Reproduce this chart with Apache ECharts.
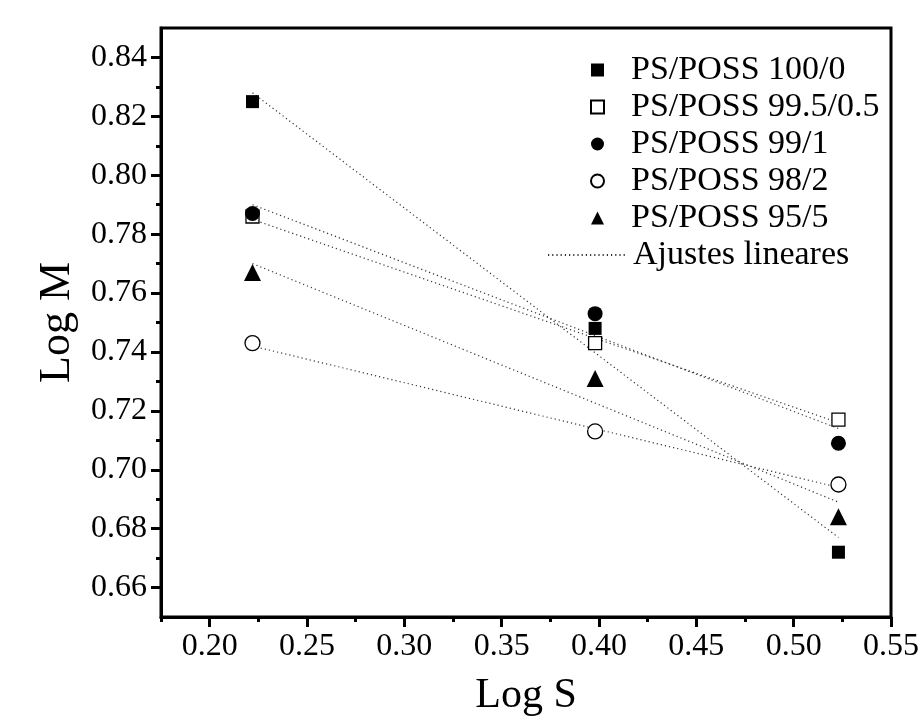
<!DOCTYPE html>
<html>
<head>
<meta charset="utf-8">
<script src="https://cdn.jsdelivr.net/npm/echarts@6/dist/echarts.min.js"></script>
<style>
  html, body { margin: 0; padding: 0; background: #fff; }
  #chart { width: 922px; height: 724px; }
</style>
</head>
<body>
<div id="chart"></div>
<script>
// Log S positions of the three measurements
var logS = [0.222, 0.398, 0.523];

// Log M values for each blend
var names = ['PS/POSS 100/0', 'PS/POSS 99.5/0.5', 'PS/POSS 99/1', 'PS/POSS 98/2', 'PS/POSS 95/5'];
var ps100 = [0.825, 0.748, 0.672];
var ps995 = [0.786, 0.743, 0.717];
var ps99 = [0.787, 0.753, 0.709];
var ps98 = [0.743, 0.713, 0.695];
var ps95 = [0.767, 0.731, 0.684];

// linear fits: value at first and last Log S
var fitStart = [0.828, 0.785, 0.790, 0.742, 0.770];
var fitEnd = [0.677, 0.716, 0.714, 0.694, 0.689];

// ticks
var xMajorTicks = [0.20, 0.25, 0.30, 0.35, 0.40, 0.45, 0.50, 0.55];
var xMinorTicks = [0.175, 0.225, 0.275, 0.325, 0.375, 0.425, 0.475, 0.525];
var yMajorTicks = [0.66, 0.68, 0.70, 0.72, 0.74, 0.76, 0.78, 0.80, 0.82, 0.84];
var yMinorTicks = [0.67, 0.69, 0.71, 0.73, 0.75, 0.77, 0.79, 0.81, 0.83];

var font = 'Liberation Serif, Times New Roman, serif';
var allY = [ps100, ps995, ps99, ps98, ps95];
var symbols = ['rect', 'rect', 'circle', 'circle', 'triangle'];
var sizes = [13, 13, 15, 15, 17];
var filled = [true, false, true, false, true];

function pairs(ys) {
	return ys.map(function(v, i) { return [logS[i], v]; });
}

var series = [];
for (var i = 0; i < names.length; i++) {
	series.push({
		name: 'Ajustes lineares',
		type: 'line',
		symbol: 'none',
		silent: true,
		z: 1,
		itemStyle: { color: '#333' },
		lineStyle: { type: [1.2, 3], width: 1.2, color: '#333' },
		data: [[logS[0], fitStart[i]], [logS[2], fitEnd[i]]]
	});
}
for (var i = 0; i < names.length; i++) {
	series.push({
		name: names[i],
		type: 'scatter',
		symbol: symbols[i],
		symbolSize: sizes[i],
		z: 3,
		itemStyle: filled[i]
			? { color: '#000', opacity: 1 }
			: { color: '#fff', borderColor: '#000', borderWidth: 1.3, opacity: 1 },
		data: pairs(allY[i])
	});
}

var axisBase = {
	type: 'value',
	splitLine: { show: false },
	axisLine: { show: true, onZero: false, lineStyle: { color: '#000', width: 3 } }
};
var legendText = { fontFamily: font, fontSize: 34, lineHeight: 34, color: '#000' };

var myChart = echarts.init(document.getElementById('chart'));
var option = {
	backgroundColor: '#fff',
	animation: false,
	grid: {
		left: 161,
		top: 28,
		width: 730,
		height: 589,
		show: true,
		borderColor: '#000',
		borderWidth: 3
	},
	legend: [{
		orient: 'vertical',
		left: 585,
		top: 48,
		itemGap: 3,
		itemWidth: 13,
		itemHeight: 13,
		data: names,
		textStyle: Object.assign({ padding: [0, 0, 0, 22] }, legendText)
	}, {
		orient: 'vertical',
		left: 542,
		top: 233,
		itemWidth: 78,
		itemHeight: 12,
		data: [{ name: 'Ajustes lineares', itemStyle: { opacity: 0 } }],
		textStyle: Object.assign({ padding: [0, 0, 0, 2] }, legendText)
	}],
	xAxis: [
		Object.assign({}, axisBase, {
			min: 0.175,
			max: 0.55,
			position: 'bottom',
			axisTick: { customValues: xMajorTicks, length: 10, lineStyle: { width: 3, color: '#000' } },
			axisLabel: {
				customValues: xMajorTicks,
				formatter: function(v) { return v.toFixed(2); },
				fontFamily: font, fontSize: 32, color: '#000', margin: 14
			},
			name: 'Log S',
			nameLocation: 'middle',
			nameGap: 58,
			nameTextStyle: { fontFamily: font, fontSize: 42, color: '#000' }
		}),
		Object.assign({}, axisBase, {
			min: 0.175,
			max: 0.55,
			position: 'bottom',
			axisLine: { show: false },
			axisTick: { customValues: xMinorTicks, length: 5, lineStyle: { width: 3, color: '#000' } },
			axisLabel: { show: false }
		})
	],
	yAxis: [
		Object.assign({}, axisBase, {
			min: 0.65,
			max: 0.85,
			position: 'left',
			axisTick: { customValues: yMajorTicks, length: 10, lineStyle: { width: 3, color: '#000' } },
			axisLabel: {
				customValues: yMajorTicks,
				formatter: function(v) { return v.toFixed(2); },
				fontFamily: font, fontSize: 32, color: '#000', margin: 14
			},
			name: 'Log M',
			nameLocation: 'middle',
			nameGap: 82,
			nameTextStyle: { fontFamily: font, fontSize: 44, color: '#000' }
		}),
		Object.assign({}, axisBase, {
			min: 0.65,
			max: 0.85,
			position: 'left',
			axisLine: { show: false },
			axisTick: { customValues: yMinorTicks, length: 5, lineStyle: { width: 3, color: '#000' } },
			axisLabel: { show: false }
		})
	],
	series: series
};
myChart.setOption(option);
</script>
</body>
</html>
